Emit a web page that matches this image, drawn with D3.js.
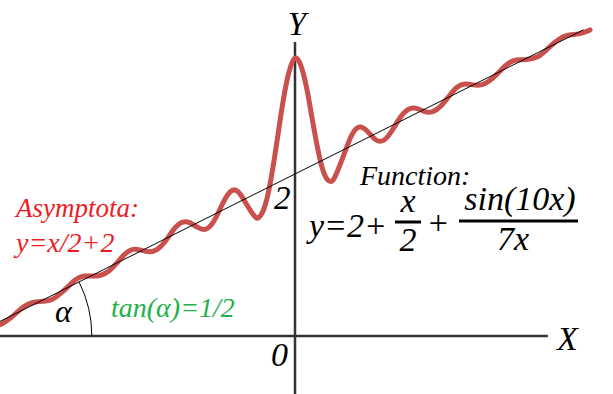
<!DOCTYPE html>
<html><head><meta charset="utf-8"><script src="https://cdn.jsdelivr.net/npm/d3@7"></script></head>
<body style="margin:0">
<svg width="613" height="394" font-family="Liberation Serif" font-style="italic"></svg>
<script>
// points of the red curve
var curveX = [-3.64, -3.6, -3.5, -3.4, -3.3, -3.2, -3.1, -3.0, -2.9, -2.8, -2.7, -2.6, -2.5, -2.4, -2.3, -2.2, -2.1,
              -2.0, -1.9, -1.8, -1.7, -1.6, -1.5, -1.4, -1.3, -1.2, -1.1, -1.0, -0.9, -0.8, -0.7, -0.6, -0.5,
              -0.45, -0.4, -0.35, -0.3, -0.25, -0.2, -0.15, -0.1, -0.05, 0, 0.05, 0.1, 0.15, 0.2, 0.25, 0.3,
              0.35, 0.4, 0.45, 0.5, 0.6, 0.7, 0.8, 0.9, 1.0, 1.1, 1.2, 1.3, 1.4, 1.5, 1.6, 1.7, 1.8, 1.9,
              2.0, 2.1, 2.2, 2.3, 2.4, 2.5, 2.6, 2.7, 2.8, 2.9, 3.0, 3.1, 3.2, 3.3, 3.4, 3.5, 3.6, 3.64];
var curveY = [0.14, 0.16, 0.23, 0.32, 0.39, 0.42, 0.43, 0.45, 0.52, 0.61, 0.70, 0.74, 0.74, 0.75, 0.80, 0.90, 1.01,
              1.07, 1.06, 1.04, 1.07, 1.17, 1.31, 1.40, 1.40, 1.34, 1.32, 1.42, 1.62, 1.78, 1.78, 1.63, 1.48,
              1.46, 1.53, 1.68, 1.92, 2.22, 2.55, 2.88, 3.15, 3.34, 3.43, 3.39, 3.25, 3.03, 2.75, 2.47, 2.22,
              2.03, 1.93, 1.91, 1.98, 2.23, 2.48, 2.58, 2.52, 2.42, 2.42, 2.54, 2.70, 2.80, 2.81, 2.77, 2.77, 2.84, 2.96,
              3.07, 3.11, 3.10, 3.10, 3.15, 3.24, 3.34, 3.40, 3.41, 3.42, 3.45, 3.53, 3.62, 3.69, 3.72, 3.73, 3.76, 3.78];

// asymptote y = x/2 + 2, two end points
var asymX = [-3.64, 3.56];
var asymY = [0.18, 3.78];

// axes extents
var axisX = [-3.64, 3.12];
var axisY = [-0.72, 3.63];

var svg = d3.select("svg");

var x = d3.scaleLinear().domain([-3.64, 3.64]).range([0, 590]);
var y = d3.scaleLinear().domain([0, 2]).range([336, 174]);

// axes
svg.append("line")
    .attr("x1", x(axisX[0])).attr("x2", x(axisX[1]))
    .attr("y1", y(0)).attr("y2", y(0))
    .attr("stroke", "#333").attr("stroke-width", 2.5);
svg.append("line")
    .attr("x1", x(0)).attr("x2", x(0))
    .attr("y1", y(axisY[0])).attr("y2", y(axisY[1]))
    .attr("stroke", "#333").attr("stroke-width", 2.5);

// curve
var pts = curveX.map(function(d, i) { return [d, curveY[i]]; });
var line = d3.line()
    .x(function(d) { return x(d[0]); })
    .y(function(d) { return y(d[1]); })
    .curve(d3.curveNatural);

svg.append("path")
    .datum(pts)
    .attr("d", line)
    .attr("fill", "none")
    .attr("stroke", "#c9504c")
    .attr("stroke-width", 5)
    .attr("stroke-linejoin", "round")
    .attr("stroke-linecap", "round");

// asymptote
svg.append("line")
    .attr("x1", x(asymX[0])).attr("y1", y(asymY[0]))
    .attr("x2", x(asymX[1])).attr("y2", y(asymY[1]))
    .attr("stroke", "#000").attr("stroke-width", 1);

// angle arc at the asymptote's x intercept (x = -4)
var cx = x(-4), cy = y(0), r = 121;
var p = d3.path();
p.moveTo(cx + r * Math.cos(-Math.atan(0.5)), cy + r * Math.sin(-Math.atan(0.5)));
p.arc(cx, cy, r, -Math.atan(0.5), 0);
svg.append("path").attr("d", p.toString())
    .attr("fill", "none").attr("stroke", "#000").attr("stroke-width", 1);

// labels
function label(t, px, py, size, color, anchor) {
    svg.append("text")
        .attr("x", px).attr("y", py)
        .attr("font-size", size)
        .attr("font-family", "Liberation Serif")
        .attr("font-style", "italic")
        .attr("fill", color || "#000")
        .attr("text-anchor", anchor || "start")
        .text(t);
}

label("Y", 297, 35, 33, "#000", "middle");
label("X", 557, 350, 34);
label("0", 288, 366, 34, "#000", "end");
label("2", 274, 209, 33);
label("\u03b1", 55, 322, 32);
label("tan(\u03b1)=1/2", 111, 317, 28, "#22b14c");
label("Asymptota:", 16, 217, 27, "#ed1c24");
label("y=x/2+2", 16, 252, 28, "#ed1c24");
label("Function:", 360, 185, 28);

// formula y = 2 + x/2 + sin(10x)/7x
label("y=2+", 309, 237, 34);
label("x", 408, 212, 34, "#000", "middle");
label("2", 408, 251, 34, "#000", "middle");
label("+", 438, 234, 34, "#000", "middle");
label("sin(10x)", 520, 210, 34, "#000", "middle");
label("7x", 513, 250, 34, "#000", "middle");

svg.append("line").attr("x1", 395).attr("x2", 421).attr("y1", 222).attr("y2", 222)
    .attr("stroke", "#000").attr("stroke-width", 3);
svg.append("line").attr("x1", 459).attr("x2", 578).attr("y1", 221).attr("y2", 221)
    .attr("stroke", "#000").attr("stroke-width", 3);
</script>
</body></html>
